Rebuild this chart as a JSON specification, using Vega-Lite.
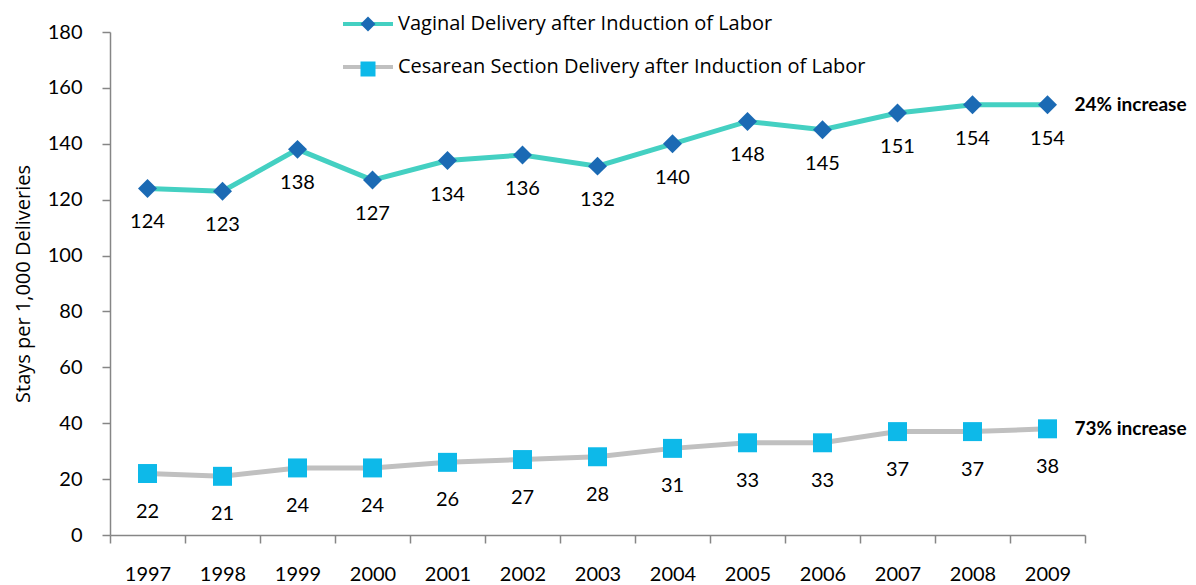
{
  "$schema": "https://vega.github.io/schema/vega-lite/v6.json",
  "width": 975,
  "height": 503,
  "autosize": {"type": "none"},
  "padding": {"left": 110, "top": 32, "right": 111, "bottom": 50},
  "background": "white",
  "config": {
    "view": {"stroke": null},
    "font": "Lato",
    "axis": {
      "grid": false,
      "domainColor": "#868686",
      "tickColor": "#868686",
      "domainWidth": 1.5,
      "tickWidth": 1.5,
      "labelColor": "#000000",
      "labelFont": "Lato",
      "labelFontSize": 20,
      "titleFont": "Open Sans",
      "titleFontWeight": "normal",
      "titleColor": "#000000"
    }
  },
  "data": {
    "values": [
      {"year": "1997", "series": "Vaginal Delivery after Induction of Labor", "value": 124},
      {"year": "1998", "series": "Vaginal Delivery after Induction of Labor", "value": 123},
      {"year": "1999", "series": "Vaginal Delivery after Induction of Labor", "value": 138},
      {"year": "2000", "series": "Vaginal Delivery after Induction of Labor", "value": 127},
      {"year": "2001", "series": "Vaginal Delivery after Induction of Labor", "value": 134},
      {"year": "2002", "series": "Vaginal Delivery after Induction of Labor", "value": 136},
      {"year": "2003", "series": "Vaginal Delivery after Induction of Labor", "value": 132},
      {"year": "2004", "series": "Vaginal Delivery after Induction of Labor", "value": 140},
      {"year": "2005", "series": "Vaginal Delivery after Induction of Labor", "value": 148},
      {"year": "2006", "series": "Vaginal Delivery after Induction of Labor", "value": 145},
      {"year": "2007", "series": "Vaginal Delivery after Induction of Labor", "value": 151},
      {"year": "2008", "series": "Vaginal Delivery after Induction of Labor", "value": 154},
      {"year": "2009", "series": "Vaginal Delivery after Induction of Labor", "value": 154, "note": "24% increase"},
      {"year": "1997", "series": "Cesarean Section Delivery after Induction of Labor", "value": 22},
      {"year": "1998", "series": "Cesarean Section Delivery after Induction of Labor", "value": 21},
      {"year": "1999", "series": "Cesarean Section Delivery after Induction of Labor", "value": 24},
      {"year": "2000", "series": "Cesarean Section Delivery after Induction of Labor", "value": 24},
      {"year": "2001", "series": "Cesarean Section Delivery after Induction of Labor", "value": 26},
      {"year": "2002", "series": "Cesarean Section Delivery after Induction of Labor", "value": 27},
      {"year": "2003", "series": "Cesarean Section Delivery after Induction of Labor", "value": 28},
      {"year": "2004", "series": "Cesarean Section Delivery after Induction of Labor", "value": 31},
      {"year": "2005", "series": "Cesarean Section Delivery after Induction of Labor", "value": 33},
      {"year": "2006", "series": "Cesarean Section Delivery after Induction of Labor", "value": 33},
      {"year": "2007", "series": "Cesarean Section Delivery after Induction of Labor", "value": 37},
      {"year": "2008", "series": "Cesarean Section Delivery after Induction of Labor", "value": 37},
      {"year": "2009", "series": "Cesarean Section Delivery after Induction of Labor", "value": 38, "note": "73% increase"}
    ]
  },
  "encoding": {
    "x": {
      "field": "year",
      "type": "ordinal",
      "scale": {"type": "band", "paddingInner": 0, "paddingOuter": 0},
      "axis": {"title": null, "labelAngle": 0, "tickBand": "extent", "tickSize": 8, "labelPadding": 21}
    },
    "y": {
      "field": "value",
      "type": "quantitative",
      "scale": {"domain": [0, 180]},
      "axis": {
        "title": "Stays per 1,000 Deliveries",
        "values": [0, 20, 40, 60, 80, 100, 120, 140, 160, 180],
        "tickSize": 8,
        "labelPadding": 20,
        "titleFontSize": 20,
        "titlePadding": 14
      }
    }
  },
  "layer": [
    {
      "mark": {"type": "line", "strokeWidth": 5},
      "encoding": {
        "stroke": {
          "field": "series",
          "type": "nominal",
          "scale": {
            "domain": ["Vaginal Delivery after Induction of Labor", "Cesarean Section Delivery after Induction of Labor"],
            "range": ["#44D0C2", "#C0C0C0"]
          },
          "legend": {
            "orient": "none",
            "legendX": 231,
            "legendY": -35,
            "title": null,
            "symbolType": "stroke",
            "symbolSize": 2500,
            "symbolStrokeWidth": 4,
            "labelFont": "Open Sans",
            "labelFontSize": 20,
            "labelColor": "#000000",
            "labelLimit": 0,
            "labelOffset": 3,
            "rowPadding": 6,
            "padding": 0
          }
        }
      }
    },
    {
      "mark": {"type": "point", "filled": true, "opacity": 1, "size": 360},
      "encoding": {
        "fill": {
          "field": "series",
          "type": "nominal",
          "sort": "descending",
          "scale": {"range": ["#1B6AB4", "#0DB9E9"]},
          "legend": null
        },
        "shape": {
          "field": "series",
          "type": "nominal",
          "sort": "descending",
          "scale": {"range": ["diamond", "square"]},
          "legend": {
            "orient": "none",
            "legendX": 248.5,
            "legendY": -17.5,
            "title": null,
            "symbolSize": 225,
            "symbolStrokeWidth": 0,
            "labelFont": "Lato",
            "labelFontSize": 19,
            "labelLimit": 0,
            "labelExpr": "''",
            "rowPadding": 25,
            "padding": 0,
            "encode": {
              "symbols": {
                "update": {
                  "fill": {"scale": "fill", "field": "value"},
                  "stroke": {"value": "transparent"},
                  "opacity": {"value": 1}
                }
              }
            }
          }
        }
      }
    },
    {
      "transform": [{"filter": "datum.series == 'Vaginal Delivery after Induction of Labor'"}],
      "mark": {"type": "text", "dy": 34, "fontSize": 20, "font": "Lato", "color": "#000000", "baseline": "middle"},
      "encoding": {"text": {"field": "value", "type": "quantitative"}}
    },
    {
      "transform": [{"filter": "datum.series == 'Cesarean Section Delivery after Induction of Labor'"}],
      "mark": {"type": "text", "dy": 38, "fontSize": 20, "font": "Lato", "color": "#000000", "baseline": "middle"},
      "encoding": {"text": {"field": "value", "type": "quantitative"}}
    },
    {
      "transform": [{"filter": "isValid(datum.note)"}],
      "mark": {"type": "text", "dx": 27, "align": "left", "fontSize": 19, "fontWeight": "bold", "font": "Lato", "color": "#000000", "baseline": "middle"},
      "encoding": {"text": {"field": "note", "type": "nominal"}}
    }
  ]
}
